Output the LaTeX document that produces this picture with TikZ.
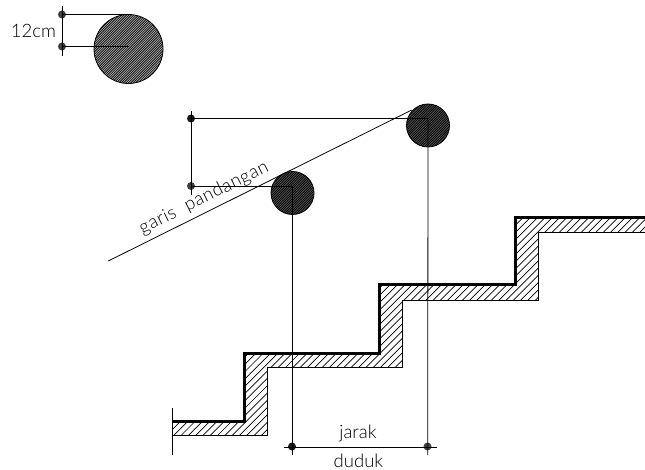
\documentclass[tikz,border=0pt]{standalone}
\usepackage{fontspec}
\setmainfont{Lato Light}
\tikzset{
  thinline/.style={draw=black,line width=0.8pt},
  thickline/.style={draw=black,line width=3pt,line join=miter},
  dotmark/.style={circle,fill=#1,draw=none,inner sep=0pt,minimum size=8pt},
  dotmark/.default={black!75},
  label/.style={inner sep=0pt,font=\fontsize{18.5}{20}\selectfont},
  hatchline/.style={draw=black,line width=0.7pt},
  finehatch/.style={draw=black,line width=0.6pt},
  darkhatch/.style={draw=black,line width=0.75pt},
}
\begin{document}
\begin{tikzpicture}[x=1pt,y=-1pt]
\useasboundingbox (0,0) rectangle (645,470);
% stairs hatch
\begin{scope}
\clip (172,421) -- (244,421) -- (244,353) -- (379,353) -- (379,285) -- (515,285) -- (515,218) -- (645,218) -- (645,232) -- (538,232) -- (538,300) -- (402,300) -- (402,367) -- (267,367) -- (267,435) -- (172,435) -- cycle;
\foreach \c in {580,587.3,...,900} {\draw[hatchline] (\c,0) -- (\c-500,500);}
\end{scope}
\draw[thinline] (645,232) -- (538,232) -- (538,300) -- (402,300) -- (402,367) -- (267,367) -- (267,435) -- (172,435);
\draw[thickline] (172,421) -- (244,421) -- (244,353) -- (379,353) -- (379,285) -- (515,285) -- (515,218) -- (645,218);
% circles
\begin{scope}
\fill[black!35] (128.5,49) circle (34.5);
\clip (128.5,49) circle (34.5);
\foreach \c in {120,122.4,...,240} {\draw[finehatch] (\c,0) -- (\c-240,240);}
\end{scope}
\begin{scope}
\fill[black!65] (292.5,193) circle (21.5);
\clip (292.5,193) circle (21.5);
\foreach \c in {450,452.4,...,522} {\draw[darkhatch] (\c,0) -- (\c-500,500);}
\end{scope}
\begin{scope}
\fill[black!65] (428,125.5) circle (21.5);
\clip (428,125.5) circle (21.5);
\foreach \c in {518,520.4,...,590} {\draw[darkhatch] (\c,0) -- (\c-500,500);}
\end{scope}
\draw[thinline] (128.5,49) circle (34.5);
\draw[thinline] (292.5,193) circle (21.5);
\draw[thinline] (428,125.5) circle (21.5);
% named points
\coordinate (tc) at (128.5,15);
\coordinate (tm) at (128.5,47);
\coordinate (ttop) at (62.5,6);
\coordinate (tbot) at (62.5,56);
\coordinate (c1) at (292,187);
\coordinate (c2) at (428,119.5);
\coordinate (ltop) at (191.5,111);
\coordinate (lbot) at (191.5,195);
\coordinate (s1) at (108.3,261);
\coordinate (s2) at (411.7,110);
\coordinate (f1) at (292,455);
\coordinate (f2) at (427.7,455);
\coordinate (e1) at (284,447);
\coordinate (e2) at (437,447);
\coordinate (w1) at (172,408);
\coordinate (w2) at (172,455);
% dots
\node[dotmark] (a) at (62,14.5) {};
\node[dotmark] (b) at (62,46.5) {};
\node[dotmark=black!90] (p) at (191,118.5) {};
\node[dotmark] (q) at (191,186) {};
\node[dotmark=black!90] (u) at (292,446.5) {};
\node[dotmark] (v) at (427.5,446.5) {};
% connectors
\draw[thinline] (ttop) -- (tbot);
\draw[thinline] (a.center) -- (a.center -| tc);
\draw[thinline] (b.center) -- (b.center -| tm);
\draw[thinline] (ltop) -- (lbot);
\draw[thinline] (p.center) -- (p.center -| c2);
\draw[thinline] (q.center) -- (q.center -| c1);
\draw[thinline] (c1) -- (f1);
\draw[thinline] (c2) -- (f2);
\draw[thinline] (s1) -- (s2);
\draw[thinline] (e1) -- (e2);
\draw[thinline] (w1) -- (w2);
% labels
\node[label] (l12) at (33.5,31) {12cm};
\node[label,rotate=26.5] (lg) at (204,198) {\addfontfeature{LetterSpace=3}garis\ \ pandangan};
\node[label] (lj) at (358,433) {jarak};
\node[label] (ld) at (358.5,461) {duduk};
\end{tikzpicture}
\end{document}
